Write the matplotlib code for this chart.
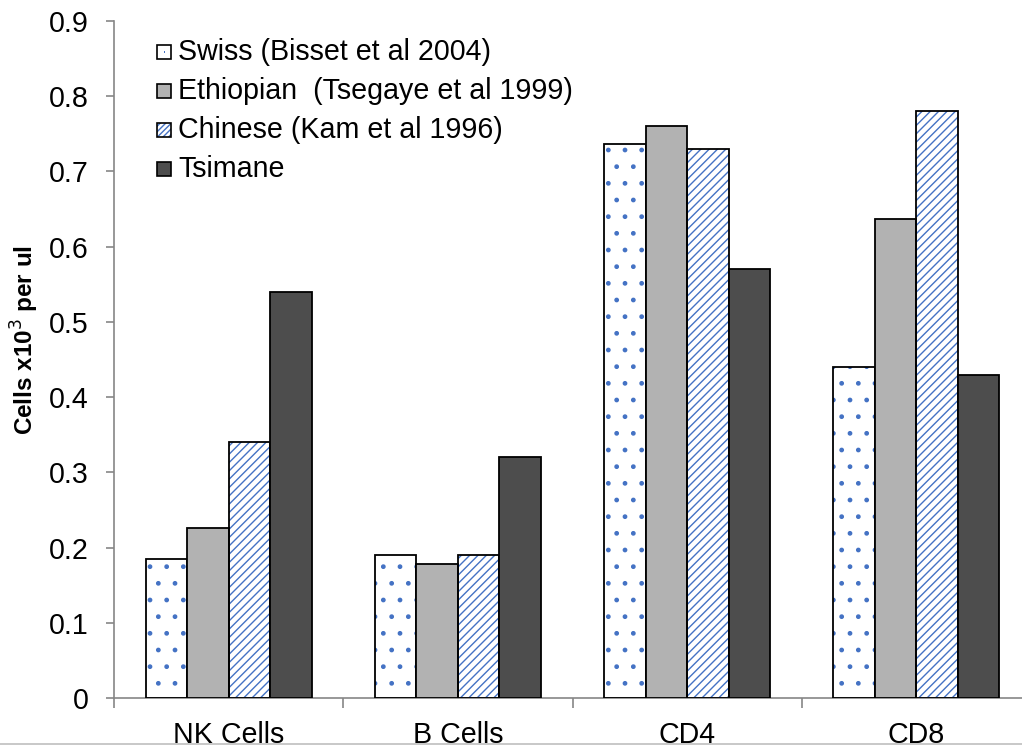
import matplotlib
matplotlib.use("Agg")
import matplotlib.pyplot as plt
from matplotlib.patches import Rectangle
from matplotlib.lines import Line2D
import numpy as np

plt.rcParams['font.family'] = ['Liberation Sans', 'DejaVu Sans']

categories = ['NK Cells', 'B Cells', 'CD4', 'CD8']
series_names = ['Swiss (Bisset et al 2004)', 'Ethiopian  (Tsegaye et al 1999)',
                'Chinese (Kam et al 1996)', 'Tsimane']
swiss = [0.185, 0.19, 0.737, 0.44]
ethiopian = [0.226, 0.178, 0.761, 0.637]
chinese = [0.34, 0.19, 0.73, 0.78]
tsimane = [0.54, 0.32, 0.57, 0.43]
yticks = [0, 0.1, 0.2, 0.3, 0.4, 0.5, 0.6, 0.7, 0.8, 0.9]

# fill, hatch pattern for each series
styles = [
    ('white', '.'),
    ('#b2b2b2', None),
    ('white', '////'),
    ('#4d4d4d', None),
]
hatch_blue = '#4472c4'
axis_gray = '#868686'
fs = 20.6

W, H = 1022, 747
fig = plt.figure(figsize=(W / 100, H / 100), dpi=100)
ax = fig.add_axes([114 / W, 1 - 698 / H, 917 / W, 677 / H])

x = np.arange(len(categories))
width = 0.181
values = [swiss, ethiopian, chinese, tsimane]
plt.rcParams['hatch.linewidth'] = 1.0
for i, (vals, (fc, hatch)) in enumerate(zip(values, styles)):
    pos = x + (i - 1.5) * width
    if hatch:
        ax.bar(pos, vals, width, color=fc, edgecolor=hatch_blue, hatch=hatch, linewidth=0, zorder=2)
        ax.bar(pos, vals, width, fill=False, edgecolor='black', linewidth=1.3, zorder=3)
    else:
        ax.bar(pos, vals, width, color=fc, edgecolor='black', linewidth=1.3, zorder=3)

ax.set_xlim(-0.5, 3.5)
ax.set_ylim(0, 0.9)
ax.set_yticks(yticks)
ax.set_yticklabels(['0'] + [f'{v:.1f}' for v in yticks[1:]])
ax.set_xticks(x)
ax.set_xticklabels(categories)
ax.set_xticks(np.arange(-0.5, 4.0, 1.0), minor=True)

for side in ['top', 'right']:
    ax.spines[side].set_visible(False)
for side in ['left', 'bottom']:
    ax.spines[side].set_color(axis_gray)
    ax.spines[side].set_linewidth(1.2)

ax.tick_params(axis='y', direction='out', length=6, width=1.2, color=axis_gray,
               labelsize=fs, pad=12)
ax.tick_params(axis='x', which='major', length=0, labelsize=fs, pad=16.5)
ax.tick_params(axis='x', which='minor', direction='out', length=7, width=1.2, color=axis_gray)

fig.text(25 / W, 1 - 340 / H, 'Cells x10$^{3}$ per ul', fontsize=17.5, fontweight='bold',
         rotation=90, ha='center', va='center')

# legend drawn in figure pixel space
sq = 14
for i, (name, (fc, hatch)) in enumerate(zip(series_names, styles)):
    yc = 52 + i * 39
    corner = (157 / W, 1 - (yc + sq / 2) / H)
    if hatch:
        fig.patches.append(Rectangle(corner, sq / W, sq / H, transform=fig.transFigure,
                                     facecolor=fc, edgecolor=hatch_blue,
                                     hatch='//////' if i == 2 else None, linewidth=0))
        if i == 0:
            fig.patches.append(Rectangle((163.5 / W, 1 - (yc + 1) / H), 1.8 / W, 1.8 / H,
                                         transform=fig.transFigure, facecolor=hatch_blue,
                                         linewidth=0))
        fig.patches.append(Rectangle(corner, sq / W, sq / H, transform=fig.transFigure,
                                     fill=False, edgecolor='black', linewidth=1.2))
    else:
        fig.patches.append(Rectangle(corner, sq / W, sq / H, transform=fig.transFigure,
                                     facecolor=fc, edgecolor='black', linewidth=1.2))
    fig.text(178 / W, 1 - yc / H, name, fontsize=fs, va='center', ha='left')

# outer border line at the bottom
fig.add_artist(Line2D([0, 1], [1 - 744 / H, 1 - 744 / H], transform=fig.transFigure,
                      color='#bfbfbf', linewidth=1.2))

fig.savefig('out.png', dpi=100)
